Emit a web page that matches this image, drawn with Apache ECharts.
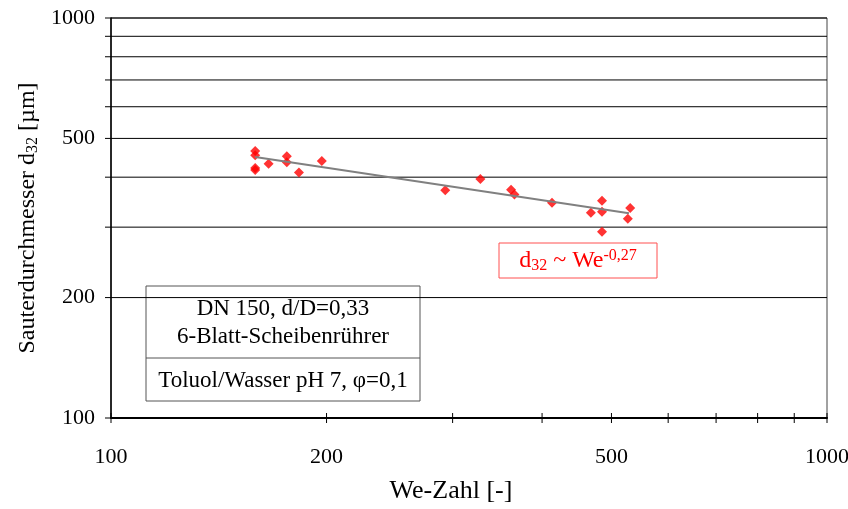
<!DOCTYPE html>
<html>
<head>
<meta charset="utf-8">
<script src="https://cdn.jsdelivr.net/npm/echarts@6/dist/echarts.min.js"></script>
<style>
  html, body { margin: 0; padding: 0; background: #fff; }
  #chart { width: 848px; height: 509px; }
</style>
</head>
<body>
<div id="chart"></div>
<script>
// data
var weZahl = [159, 159, 159, 159, 166, 176, 176, 183, 197, 293, 328, 362, 366, 413, 468, 485, 485, 485, 531, 527];
var d32 = [465, 454, 422, 417, 432, 451, 436, 411, 439, 371, 396, 372, 362, 345, 326, 349, 328, 292, 335, 315];

// fit line d32 ~ We^-0.27
var fitWe = [159, 529];
var fitD32 = [449, 325];

// axis ticks / labels
var xTicks = [100, 200, 300, 400, 500, 600, 700, 800, 900, 1000];
var xLabels = [100, 200, 500, 1000];
var yTicks = [100, 200, 300, 400, 500, 600, 700, 800, 900, 1000];
var yLabels = [100, 200, 500, 1000];

var serif = '"Liberation Serif", "DejaVu Serif", serif';

var chart = echarts.init(document.getElementById('chart'));

var option = {
  animation: false,
  backgroundColor: '#fff',
  grid: {
    left: 111,
    right: 21,
    top: 18,
    bottom: 87,
    show: true,
    borderColor: '#444',
    borderWidth: 1
  },
  xAxis: {
    type: 'log',
    logBase: 10,
    min: 100,
    max: 1000,
    name: 'We-Zahl [-]',
    nameLocation: 'middle',
    nameGap: 60,
    nameTextStyle: { fontFamily: serif, fontSize: 26, color: '#000', padding: [0, 36, 0, 0] },
    axisLine: { show: true, lineStyle: { color: '#000', width: 2 } },
    axisTick: { show: false },
    axisLabel: { show: false },
    splitLine: { show: false }
  },
  yAxis: {
    type: 'log',
    logBase: 10,
    min: 100,
    max: 1000,
    name: '{a|Sauterdurchmesser d}{s|32}{a| [µm]}',
    nameLocation: 'middle',
    nameGap: 70,
    nameTextStyle: {
      color: '#000',
      rich: {
        a: { fontFamily: serif, fontSize: 24, color: '#000' },
        s: { fontFamily: serif, fontSize: 16, color: '#000', verticalAlign: 'bottom', padding: [10, 0, 0, 0] }
      }
    },
    axisLine: { show: true, lineStyle: { color: '#000', width: 1.5 } },
    axisTick: { show: false },
    axisLabel: { show: false },
    splitLine: { show: false }
  },
  series: [
    {
      // y gridlines, ticks and labels
      type: 'custom',
      silent: true,
      clip: false,
      z: 1,
      data: yTicks.map(function (v) { return [100, v]; }),
      renderItem: function (params, api) {
        var v = api.value(1);
        var p = api.coord([100, v]);
        var q = api.coord([1000, v]);
        var kids = [
          { type: 'line', shape: { x1: p[0] - 6, y1: p[1], x2: p[0], y2: p[1] }, style: { stroke: '#000', lineWidth: 1 } }
        ];
        if (v > 100) {
          kids.push({ type: 'line', shape: { x1: p[0], y1: p[1], x2: q[0], y2: q[1] }, style: { stroke: '#000', lineWidth: 1 } });
        }
        if (yLabels.indexOf(v) >= 0) {
          kids.push({ type: 'text', x: p[0] - 16, y: p[1], style: { text: String(v), fill: '#000', font: '22px ' + serif, align: 'right', verticalAlign: 'middle' } });
        }
        return { type: 'group', children: kids };
      }
    },
    {
      // x ticks and labels
      type: 'custom',
      silent: true,
      clip: false,
      z: 3,
      data: xTicks.map(function (v) { return [v, 100]; }),
      renderItem: function (params, api) {
        var v = api.value(0);
        var p = api.coord([v, 100]);
        var kids = [
          { type: 'line', shape: { x1: p[0], y1: p[1] - 5, x2: p[0], y2: p[1] + 5 }, style: { stroke: '#000', lineWidth: 1 } }
        ];
        if (xLabels.indexOf(v) >= 0) {
          kids.push({ type: 'text', x: p[0], y: p[1] + 39, style: { text: String(v), fill: '#000', font: '22px ' + serif, align: 'center', verticalAlign: 'middle' } });
        }
        return { type: 'group', children: kids };
      }
    },
    {
      name: 'Messwerte',
      type: 'scatter',
      symbol: 'diamond',
      symbolSize: 10,
      z: 4,
      itemStyle: { color: '#ff0000' },
      data: weZahl.map(function (w, i) { return [w, d32[i]]; })
    },
    {
      name: 'Fit',
      type: 'line',
      symbol: 'none',
      z: 5,
      lineStyle: { color: '#808080', width: 2 },
      data: fitWe.map(function (w, i) { return [w, fitD32[i]]; })
    }
  ],
  graphic: [
    {
      type: 'group',
      z: 10,
      children: [
        { type: 'rect', shape: { x: 499, y: 243, width: 158, height: 35 }, style: { fill: '#fff', stroke: '#ff5050', lineWidth: 1 } },
        {
          type: 'text', x: 578, y: 261,
          style: {
            text: '{a|d}{s|32}{a| ~ We}{p|-0,27}',
            align: 'center', verticalAlign: 'middle',
            rich: {
              a: { fontFamily: serif, fontSize: 24, fill: '#ff0000' },
              s: { fontFamily: serif, fontSize: 16, fill: '#ff0000', padding: [10, 0, 0, 0] },
              p: { fontFamily: serif, fontSize: 16, fill: '#ff0000', padding: [0, 0, 10, 0] }
            }
          }
        }
      ]
    },
    {
      type: 'group',
      z: 10,
      children: [
        { type: 'rect', shape: { x: 146, y: 286, width: 274, height: 115 }, style: { fill: '#fff', stroke: '#555', lineWidth: 1 } },
        { type: 'line', shape: { x1: 146, y1: 358, x2: 420, y2: 358 }, style: { stroke: '#555', lineWidth: 1 } },
        { type: 'text', x: 283, y: 309, style: { text: 'DN 150, d/D=0,33', fill: '#000', font: '23px ' + serif, align: 'center', verticalAlign: 'middle' } },
        { type: 'text', x: 283, y: 337, style: { text: '6-Blatt-Scheibenrührer', fill: '#000', font: '23px ' + serif, align: 'center', verticalAlign: 'middle' } },
        { type: 'text', x: 283, y: 381, style: { text: 'Toluol/Wasser pH 7, φ=0,1', fill: '#000', font: '23px ' + serif, align: 'center', verticalAlign: 'middle' } }
      ]
    }
  ]
};

option && chart.setOption(option);
</script>
</body>
</html>
